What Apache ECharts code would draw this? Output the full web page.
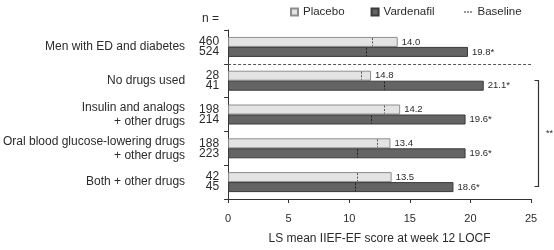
<!DOCTYPE html>
<html>
<head>
<meta charset="utf-8">
<script src="https://cdn.jsdelivr.net/npm/echarts@6/dist/echarts.min.js"></script>
<style>
html,body{margin:0;padding:0;background:#fff;}
#chart{width:554px;height:250px;}
</style>
</head>
<body>
<div id="chart"></div>
<script>
// ---- data ----
const categories = [
  'Men with ED and diabetes',
  'No drugs used',
  'Insulin and analogs\n+ other drugs',
  'Oral blood glucose-lowering drugs\n+ other drugs',
  'Both + other drugs'
];
const nPlacebo = [460, 28, 198, 188, 42];
const nVardenafil = [524, 41, 214, 223, 45];
const placeboValues = [14.0, 11.8, 14.2, 13.4, 13.5];
const placeboLabels = ['14.0', '14.8', '14.2', '13.4', '13.5'];
const vardenafilValues = [19.8, 21.1, 19.6, 19.6, 18.6];
const vardenafilLabels = ['19.8*', '21.1*', '19.6*', '19.6*', '18.6*'];
const baselinePlacebo = [11.9, 11.0, 12.9, 12.3, 10.6];
const baselineVardenafil = [11.4, 12.9, 11.8, 10.6, 10.5];
const xTicks = { min: 0, max: 25, interval: 5 };
const bracketFrom = 1, bracketTo = 4, bracketText = '**';
const nHeader = 'n =';
const xName = 'LS mean IIEF-EF score at week 12 LOCF';

// ---- styles ----
const FONT = 'Liberation Sans, Arial, sans-serif';
const TXT = '#2b2b2b';
const BAR_W = 10;

const chart = echarts.init(document.getElementById('chart'), null, { renderer: 'canvas' });

const baselineData = [];
categories.forEach((c, i) => {
  baselineData.push([baselinePlacebo[i], i, 0]);
  baselineData.push([baselineVardenafil[i], i, 1]);
});
const annoData = categories.map((c, i) => [0, i]);

const option = {
  animation: false,
  textStyle: { fontFamily: FONT },
  grid: { left: 224.5, right: 23, top: 30, bottom: 45, containLabel: false },
  legend: [
    {
      data: [{ name: 'Placebo', icon: 'rect' }, { name: 'Vardenafil', icon: 'rect' }],
      left: 285, top: 1, itemWidth: 7, itemHeight: 7, itemGap: 26,
      selectedMode: false,
      textStyle: { fontSize: 11.5, color: TXT, fontFamily: FONT }
    },
    {
      data: [{ name: 'Baseline', icon: 'path://M0,0h2v1h-2zM3,0h2v1h-2zM6,0h2v1h-2z' }],
      left: 459, top: 1, itemWidth: 9, itemHeight: 1,
      selectedMode: false,
      textStyle: { fontSize: 11.5, color: TXT, fontFamily: FONT }
    }
  ],
  xAxis: {
    type: 'value', min: xTicks.min, max: xTicks.max, interval: xTicks.interval,
    splitLine: { show: false },
    axisLine: { show: true, lineStyle: { color: '#333', width: 1 } },
    axisTick: { show: true, length: 4, lineStyle: { color: '#333' } },
    axisLabel: { fontSize: 11, color: TXT, margin: 14, fontFamily: FONT },
    name: xName, nameLocation: 'middle', nameGap: 34,
    nameTextStyle: { fontSize: 12, color: TXT, fontFamily: FONT }
  },
  yAxis: {
    type: 'category', data: categories, inverse: true,
    axisLine: { show: true, lineStyle: { color: '#333', width: 1 } },
    axisTick: { show: true, length: 4, lineStyle: { color: '#333' } },
    axisLabel: { fontSize: 12, color: TXT, margin: 43, lineHeight: 14, align: 'right', fontFamily: FONT }
  },
  series: [
    {
      name: 'Placebo', type: 'bar', data: placeboValues, barWidth: BAR_W, barGap: '0%',
      itemStyle: { color: '#e3e3e3', borderColor: '#8d8d8d', borderWidth: 1 },
      label: {
        show: true, position: 'right', distance: 4, fontSize: 9.5, color: TXT, fontFamily: FONT,
        formatter: p => placeboLabels[p.dataIndex]
      }
    },
    {
      name: 'Vardenafil', type: 'bar', data: vardenafilValues, barWidth: BAR_W, barGap: '0%',
      itemStyle: { color: '#646464', borderColor: '#3a3a3a', borderWidth: 1 },
      label: {
        show: true, position: 'right', distance: 4, fontSize: 9.5, color: TXT, fontFamily: FONT,
        formatter: p => vardenafilLabels[p.dataIndex]
      }
    },
    {
      name: 'Baseline', type: 'custom', data: baselineData, encode: { x: 0, y: 1 }, z: 5,
      itemStyle: { color: '#333' },
      renderItem: function (params, api) {
        const p = api.coord([api.value(0), api.value(1)]);
        const s = api.value(2);
        const y0 = s === 0 ? p[1] - BAR_W : p[1];
        const x = Math.round(p[0]) + 0.5;
        return {
          type: 'line',
          shape: { x1: x, y1: y0 + 1, x2: x, y2: y0 + BAR_W - 1 },
          style: { stroke: s === 0 ? '#555' : '#1e1e1e', lineWidth: 1, lineDash: [2, 1.5] }
        };
      }
    },
    {
      name: 'annotations', type: 'custom', data: annoData, encode: { x: 0, y: 1 }, z: 6,
      silent: true,
      renderItem: function (params, api) {
        const idx = api.value(1);
        const c = api.coord([0, idx]);
        const band = api.size([0, 1])[1];
        const children = [];
        const tx = c[0] - 9;
        children.push({ type: 'text', style: { text: String(nPlacebo[idx]), x: tx, y: c[1] - BAR_W / 2, align: 'right', verticalAlign: 'middle', fontSize: 12, fontFamily: FONT, fill: TXT } });
        children.push({ type: 'text', style: { text: String(nVardenafil[idx]), x: tx, y: c[1] + BAR_W / 2, align: 'right', verticalAlign: 'middle', fontSize: 12, fontFamily: FONT, fill: TXT } });
        if (idx === 0) {
          children.push({ type: 'text', style: { text: nHeader, x: tx, y: c[1] - band / 2 - 11, align: 'right', verticalAlign: 'middle', fontSize: 12, fontFamily: FONT, fill: TXT } });
          const ySep = Math.round(c[1] + band / 2) + 0.5;
          const xEnd = api.coord([xTicks.max, idx])[0];
          children.push({ type: 'line', shape: { x1: c[0], y1: ySep, x2: xEnd, y2: ySep }, style: { stroke: '#555', lineWidth: 1, lineDash: [3, 2] } });
          const top = api.coord([xTicks.max, bracketFrom]);
          const bot = api.coord([xTicks.max, bracketTo]);
          const bx = Math.round(top[0] + 7) + 0.5;
          const yT = Math.round(top[1] - 1) + 0.5;
          const yB = Math.round(bot[1] + 4) + 0.5;
          children.push({ type: 'polyline', shape: { points: [[bx - 4, yT], [bx, yT], [bx, yB], [bx - 4, yB]] }, style: { stroke: '#333', lineWidth: 1.2, fill: null } });
          children.push({ type: 'text', style: { text: bracketText, x: bx + 11, y: (yT + yB) / 2, align: 'center', verticalAlign: 'middle', fontSize: 9, fontFamily: FONT, fill: TXT } });
        }
        return { type: 'group', children: children };
      }
    }
  ]
};
chart.setOption(option);
</script>
</body>
</html>
